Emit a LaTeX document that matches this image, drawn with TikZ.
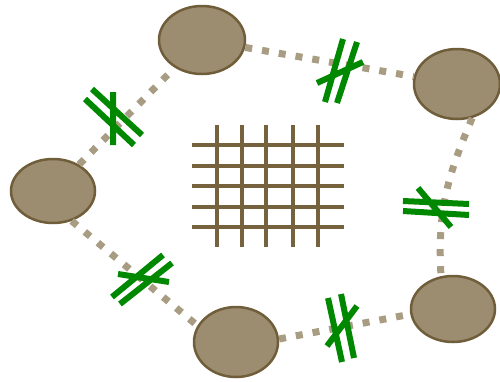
\documentclass[tikz,border=0pt]{standalone}
\usetikzlibrary{shapes.geometric}
\definecolor{stonefill}{RGB}{156,141,113}
\definecolor{stoneedge}{RGB}{112,94,58}
\definecolor{pathdot}{RGB}{168,156,130}
\definecolor{gridbrown}{RGB}{118,99,62}
\definecolor{markgreen}{RGB}{0,136,0}
\begin{document}
\begin{tikzpicture}[x=1pt,y=-1pt,
  stone/.style={ellipse, draw=stoneedge, fill=stonefill, line width=2.5pt, inner sep=0pt},
  trail/.style={draw=pathdot, line width=7pt, dash pattern=on 7pt off 10pt},
  gridline/.style={draw=gridbrown, line width=4pt},
  bar/.style={draw=markgreen, line width=6pt}]
\useasboundingbox (0,0) rectangle (500,381);

% stones
\node[stone, minimum width=86pt, minimum height=68pt] (T)  at (202,40)  {};
\node[stone, minimum width=84pt, minimum height=64pt] (L)  at (53,191)  {};
\node[stone, minimum width=86pt, minimum height=70pt] (RT) at (457,84)  {};
\node[stone, minimum width=84pt, minimum height=66pt] (RB) at (453,309) {};
\node[stone, minimum width=84pt, minimum height=70pt] (B)  at (236,342) {};

% dotted trails between the stones
\draw[trail] (L) -- (T);
\draw[trail] (T) -- (RT);
\draw[trail] (RT.-66) .. controls (448,175) and (437,210) .. (RB.110);
\draw[trail] (L.-58) -- (B.157);
\draw[trail] (B.4) -- (RB.187);

% central grid
\foreach \x in {217,242,266,293,318}
  \draw[gridline] (\x,125) -- (\x,247);
\foreach \y in {145,166,186,207,227}
  \draw[gridline] (192,\y) -- (344,\y);

% crossing marks on the trails
\draw[bar] (92,89) -- (142,135) (85,99) -- (134,145) (113,92) -- (113,145);
\draw[bar] (343,39) -- (325,102) (357,42) -- (337,103) (317,83) -- (363,62);
\draw[bar] (403,201) -- (469,204) (403,211) -- (469,215) (418,188) -- (451,227);
\draw[bar] (112,297) -- (163,255) (120,304) -- (172,263) (118,274) -- (169,282);
\draw[bar] (328,298) -- (342,362) (341,294) -- (354,358) (327,346) -- (357,306);
\end{tikzpicture}
\end{document}
